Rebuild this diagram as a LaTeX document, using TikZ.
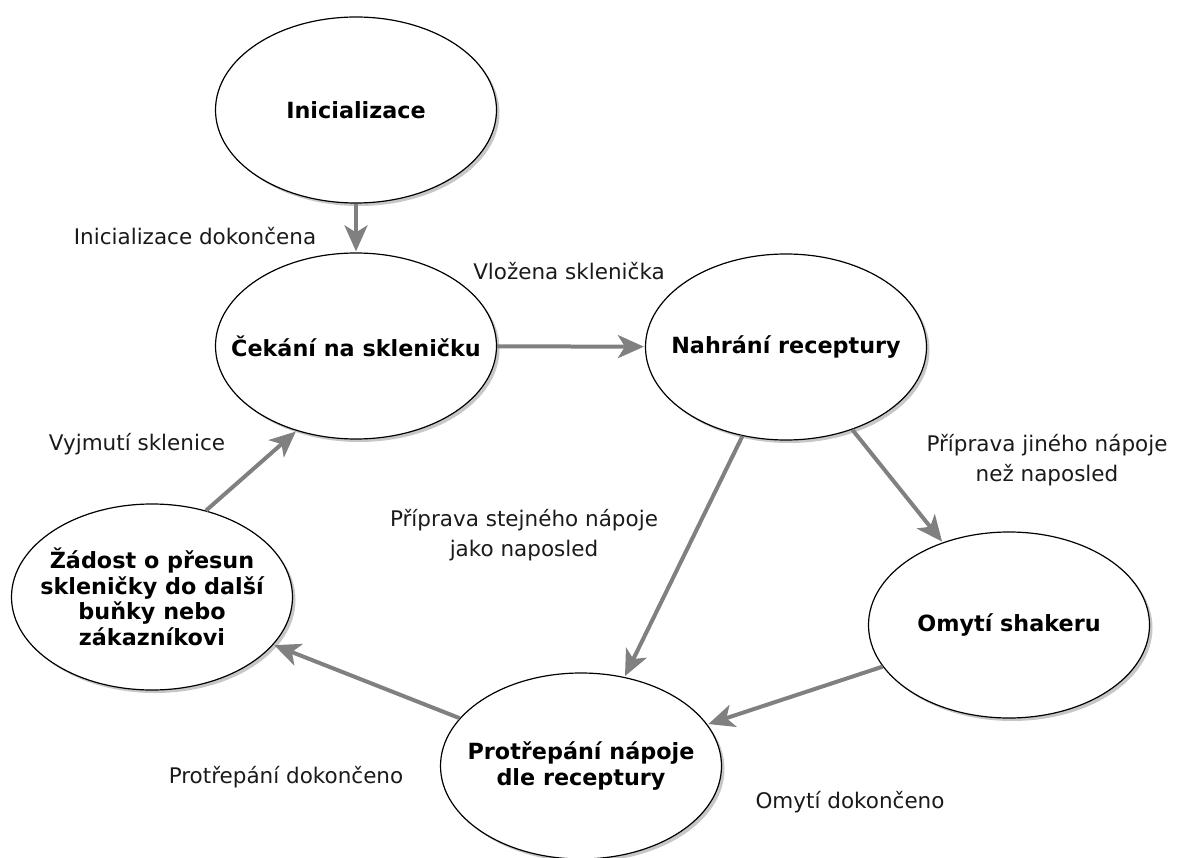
\documentclass[tikz,border=0pt]{standalone}
\usepackage{fontspec}
\setmainfont{DejaVu Sans}
\usetikzlibrary{shapes.geometric,arrows.meta,shadows}
\definecolor{arrgray}{HTML}{808080}
\definecolor{lbltext}{HTML}{1A1A1A}
\tikzset{
  state/.style={ellipse, draw=black, line width=1.2pt, fill=white,
    minimum width=281pt, minimum height=186pt, inner sep=0pt,
    drop shadow={shadow xshift=3pt, shadow yshift=-3pt, fill=black, opacity=0.22}},
  stxt/.style={align=center, inner sep=0pt,
    font=\bfseries\fontsize{22.3}{25.5}\selectfont},
  lbl/.style={align=center, text=lbltext, inner sep=0pt,
    font=\fontsize{21.5}{30}\selectfont},
  arr/.style={draw=arrgray, line width=4pt,
    -{Stealth[length=26pt, width=23pt, inset=7pt]}, shorten >=1pt}
}
\begin{document}
\begin{tikzpicture}[x=1pt, y=-1pt]
\useasboundingbox (0,0) rectangle (1177,858);
\node[state, label={[stxt]center:Inicializace}] (ini) at (356,110) {};
\node[state, label={[stxt]center:Čekání na skleničku}] (cek) at (356,346) {};
\node[state, label={[stxt]center:Nahrání receptury}] (nah) at (786,347) {};
\node[state, label={[stxt]center:Omytí shakeru}] (omy) at (1009,625) {};
\node[state, label={[stxt]center:Protřepání nápoje\\dle receptury}] (pro) at (581,766) {};
\node[state, label={[stxt]center:Žádost o přesun\\skleničky do další\\buňky nebo\\zákazníkovi}] (zad) at (152,597) {};

\draw[arr] (ini) -- (cek);
\draw[arr] (cek) -- (nah);
\draw[arr] (nah) -- (omy);
\draw[arr] (nah) -- (pro);
\draw[arr] (omy) -- (pro);
\draw[arr] (pro) -- (zad);
\draw[arr] (zad.58) -- (cek.235);

\node[lbl] (l1) at (195,236) {Inicializace dokončena};
\node[lbl] (l2) at (569,271) {Vložena sklenička};
\node[lbl] (l3) at (137,444) {Vyjmutí sklenice};
\node[lbl] (l4) at (1047,460) {Příprava jiného nápoje\\než naposled};
\node[lbl] (l5) at (524,535) {Příprava stejného nápoje\\jako naposled};
\node[lbl] (l6) at (850,802) {Omytí dokončeno};
\node[lbl] (l7) at (286,777) {Protřepání dokončeno};
\end{tikzpicture}
\end{document}
